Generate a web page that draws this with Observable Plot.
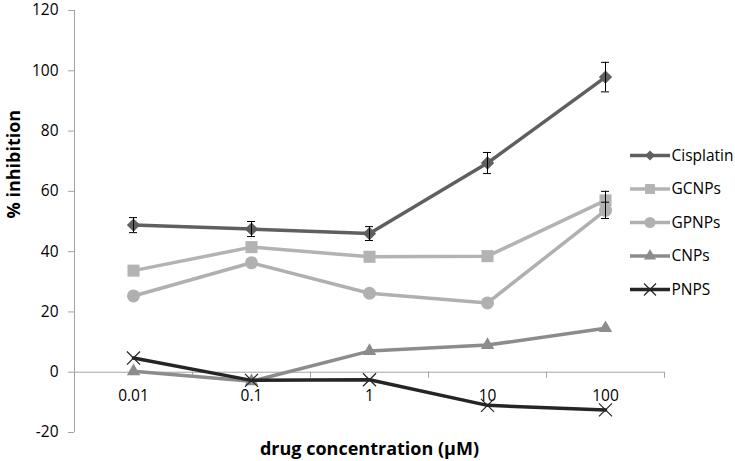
<!DOCTYPE html>
<html><head><meta charset="utf-8">
<script src="https://cdn.jsdelivr.net/npm/d3@7"></script>
<script src="https://cdn.jsdelivr.net/npm/@observablehq/plot@0.6"></script>
<style>body{margin:0;background:#fff;} #chart{width:735px;height:461px;}</style>
</head><body><div id="chart"></div>
<script>
const concentrations = ["0.01", "0.1", "1", "10", "100"];
const seriesNames = ["Cisplatin", "GCNPs", "GPNPs", "CNPs", "PNPS"];
const cisplatin = [48.8, 47.5, 46.0, 69.4, 97.9];
const cisplatinErr = [2.5, 2.5, 2.3, 3.5, 4.9];
const gcnps = [33.7, 41.5, 38.3, 38.5, 57.0];
const gcnpsErr = [null, null, null, null, 3.0];
const gpnps = [25.3, 36.3, 26.2, 23.0, 53.7];
const gpnpsErr = [null, null, null, null, 2.7];
const cnps = [0.3, -3.0, 7.0, 9.0, 14.6];
const pnps = [4.7, -2.7, -2.5, -11.0, -12.5];
const yTicks = [-20, 0, 20, 40, 60, 80, 100, 120];
const yTitle = "% inhibition";
const xTitle = "drug concentration (µM)";

const colors = ["#5f5f5f", "#b3b3b3", "#b0b0b0", "#8c8c8c", "#252525"];
const symbols = ["diamond2", "square", "circle", "triangle", "times"];
const radii = [6, 6.8, 6.5, 5, 6];
const legendRadii = [4.5, 5.6, 5.5, 4.5, 5.5];
const values = [cisplatin, gcnps, gpnps, cnps, pnps];
const errors = [cisplatinErr, gcnpsErr, gpnpsErr, null, null];

const idx = concentrations.map((c, i) => i);
const bounds = d3.range(concentrations.length + 1).map(i => i - 0.5);
const axisColor = "#a3a3a3";
const font = "'Open Sans', sans-serif";

const marks = [
  Plot.ruleX([bounds[0]], {y1: yTicks[0], y2: yTicks[yTicks.length - 1], stroke: axisColor}),
  Plot.ruleY([0], {x1: bounds[0], x2: bounds[bounds.length - 1], stroke: axisColor}),
  Plot.ruleX(bounds.slice(1), {y1: 0, y2: 0, insetBottom: -6, stroke: axisColor}),
  Plot.axisY({ticks: yTicks, tickFormat: d => String(d), tickSize: 6, tickPadding: 10, fontSize: 15.5, stroke: axisColor, fill: "#000", label: null}),
  Plot.text(concentrations, {x: (d, i) => i, y: 0, dy: 24, fontSize: 15.5, fill: "#000"}),
  Plot.text([yTitle], {frameAnchor: "left", dx: -60, dy: -3, rotate: -90, fontWeight: "bold", fontSize: 18, fill: "#000"}),
  Plot.text([xTitle], {frameAnchor: "bottom", lineAnchor: "middle", dy: 17, fontWeight: "bold", fontSize: 18, fill: "#000"})
];

seriesNames.forEach((name, s) => {
  const data = idx.map(i => ({i, v: values[s][i], e: errors[s] ? errors[s][i] : null}));
  marks.push(Plot.line(data, {x: "i", y: "v", stroke: colors[s], strokeWidth: 3.5}));
  if (symbols[s] === "times") {
    marks.push(Plot.dot(data, {x: "i", y: "v", symbol: "times", r: radii[s], stroke: colors[s], strokeWidth: 1.2}));
  } else {
    marks.push(Plot.dot(data, {x: "i", y: "v", symbol: symbols[s], r: radii[s], fill: colors[s], stroke: "none"}));
  }
  const err = data.filter(d => d.e != null);
  if (err.length) {
    marks.push(Plot.ruleX(err, {x: "i", y1: d => d.v - d.e, y2: d => d.v + d.e, stroke: "#000", strokeWidth: 1}));
    marks.push(Plot.ruleY(err, {x1: "i", x2: "i", y: d => d.v + d.e, insetLeft: -4, insetRight: -4, stroke: "#000", strokeWidth: 1}));
    marks.push(Plot.ruleY(err, {x1: "i", x2: "i", y: d => d.v - d.e, insetLeft: -4, insetRight: -4, stroke: "#000", strokeWidth: 1}));
  }
});

const plot = Plot.plot({
  width: 735, height: 461,
  marginLeft: 74, marginRight: 71, marginTop: 10, marginBottom: 29,
  style: {fontFamily: font, background: "#fff", overflow: "visible"},
  x: {domain: [bounds[0], bounds[bounds.length - 1]], axis: null},
  y: {domain: [yTicks[0], yTicks[yTicks.length - 1]], axis: null},
  marks
});
document.getElementById("chart").appendChild(plot);

// legend
const svg = d3.select(plot);
const lg = svg.append("g").style("font-family", font).style("font-size", "15.5px").style("text-anchor", "start");
const symMap = {diamond2: d3.symbolDiamond2, square: d3.symbolSquare, circle: d3.symbolCircle, triangle: d3.symbolTriangle, times: d3.symbolTimes};
seriesNames.forEach((name, s) => {
  const g = lg.append("g").attr("transform", `translate(630,${155.5 + s * 33.5})`);
  g.append("line").attr("x1", 0).attr("x2", 40).attr("stroke", colors[s]).attr("stroke-width", 3.5);
  const r = legendRadii[s];
  const path = d3.symbol(symMap[symbols[s]], r * r * Math.PI)();
  const p = g.append("path").attr("d", path).attr("transform", "translate(20,0)");
  if (symbols[s] === "times") p.attr("fill", "none").attr("stroke", colors[s]).attr("stroke-width", 1.2);
  else p.attr("fill", colors[s]);
  g.append("text").attr("x", 41.5).attr("dy", "0.35em").attr("fill", "#000").style("text-anchor", "start").text(name);
});
</script>
</body></html>
